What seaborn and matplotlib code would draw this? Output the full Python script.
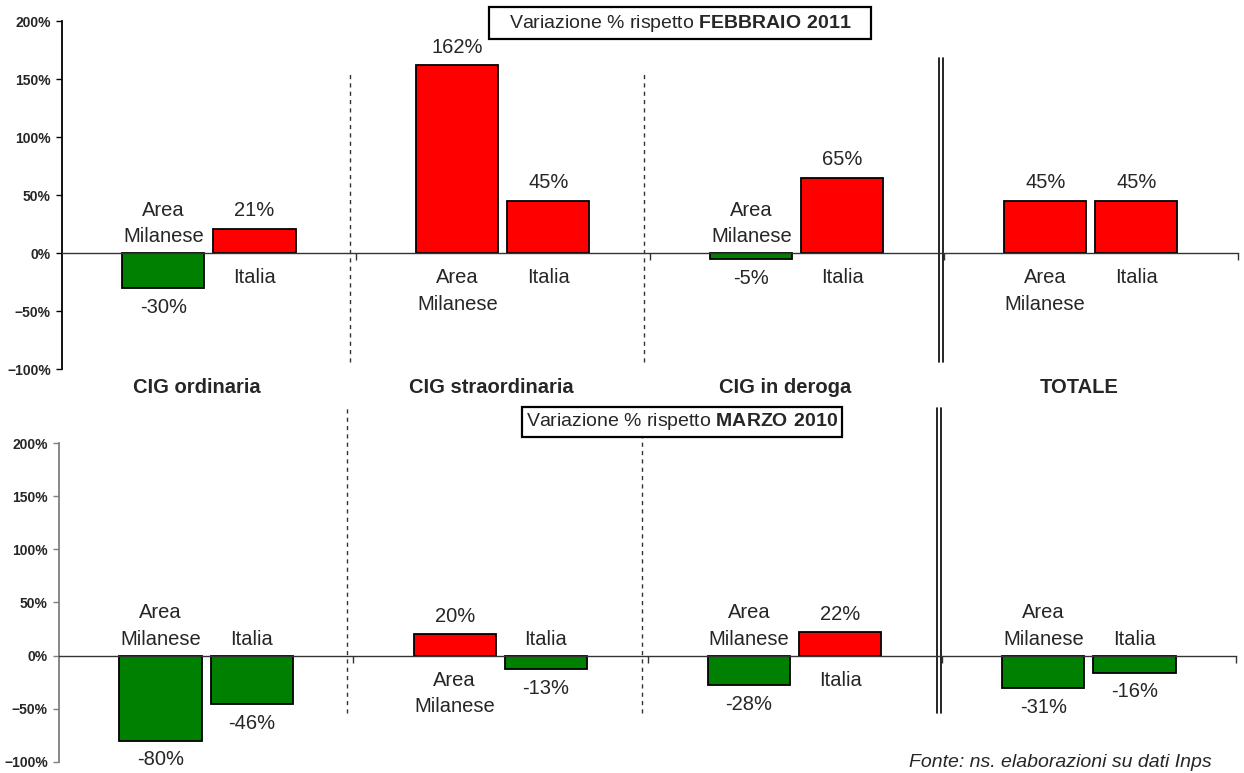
import seaborn as sns
import pandas as pd
import numpy as np
import matplotlib.pyplot as plt
import matplotlib.ticker as ticker
from matplotlib.patches import Rectangle

# data
categorie = ["CIG ordinaria", "CIG straordinaria", "CIG in deroga", "TOTALE"]
aree = ["Area\nMilanese", "Italia"]
feb_area_milanese = [-30, 162, -5, 45]
feb_italia = [21, 45, 65, 45]
mar_area_milanese = [-80, 20, -28, -31]
mar_italia = [-46, -13, 22, -16]
titolo_feb = "FEBBRAIO 2011"
titolo_mar = "MARZO 2010"
fonte = "Fonte: ns. elaborazioni su dati Inps"

sns.set_theme(style="white")
plt.rcParams['font.family'] = ['Liberation Sans', 'DejaVu Sans']
plt.rcParams['mathtext.fontset'] = 'custom'
plt.rcParams['mathtext.rm'] = 'Liberation Sans'
plt.rcParams['mathtext.bf'] = 'Liberation Sans:bold'

ROSSO = "#ff0000"
VERDE = "#008000"
FS = 14.5

fig = plt.figure(figsize=(12.44, 7.73), dpi=100)
ax_top = fig.add_axes([0.0498, 0.5226, 0.9452, 0.4502])
ax_bot = fig.add_axes([0.0474, 0.0145, 0.9462, 0.4124])


def make_df(am, it):
    return pd.DataFrame({
        "categoria": categorie * 2,
        "area": [aree[0]] * len(categorie) + [aree[1]] * len(categorie),
        "valore": list(am) + list(it),
    })


def draw_panel(ax, am, it, spine_col):
    df = make_df(am, it)
    sns.barplot(data=df, x="categoria", y="valore", hue="area", hue_order=aree,
                width=0.62, gap=0.1, ax=ax, legend=False,
                edgecolor="black", linewidth=1.3, saturation=1)
    # colour by sign + labels
    for nome, cont in zip(aree, ax.containers):
        for bar in cont:
            h = bar.get_height()
            bar.set_facecolor(ROSSO if h >= 0 else VERDE)
            xc = bar.get_x() + bar.get_width() / 2
            off = 13 if h >= 0 else -14
            ax.annotate(f"{h:.0f}%", (xc, h), xytext=(0, off), textcoords="offset points",
                        ha="center", va="center", fontsize=FS)
            if h >= 0:
                ax.annotate(nome, (xc, 0), xytext=(0, -11), textcoords="offset points",
                            ha="center", va="top", fontsize=FS, linespacing=1.5)
            else:
                ax.annotate(nome, (xc, 0), xytext=(0, 5), textcoords="offset points",
                            ha="center", va="bottom", fontsize=FS, linespacing=1.5)
    ax.set_xlim(-0.5, 3.5)
    ax.set_ylim(-100, 200)
    ax.set_yticks(np.arange(-100, 201, 50))
    ax.yaxis.set_major_formatter(ticker.PercentFormatter(decimals=0))
    ax.set_xticks([0.5, 1.5, 2.5, 3.5])
    ax.set_xticklabels([])
    ax.set_xlabel("")
    ax.set_ylabel("")
    for t in ax.get_yticklabels():
        t.set_fontweight("bold")
        t.set_fontsize(10)
    ax.tick_params(axis="y", direction="out", length=4, width=1, color=spine_col, pad=4, left=True)
    ax.tick_params(axis="x", direction="out", length=5, width=1, color="#333333", bottom=True)
    ax.spines["top"].set_visible(False)
    ax.spines["right"].set_visible(False)
    ax.spines["bottom"].set_position(("data", 0))
    ax.spines["bottom"].set_color("#333333")
    ax.spines["bottom"].set_linewidth(1)
    ax.spines["left"].set_color(spine_col)
    ax.spines["left"].set_linewidth(1.3)
    ax.patch.set_alpha(0)


draw_panel(ax_top, feb_area_milanese, feb_italia, "black")
draw_panel(ax_bot, mar_area_milanese, mar_italia, "#7f7f7f")

# separators
for ax, y0, y1, yd in [(ax_top, -94, 156, 168), (ax_bot, -54, 233, 233)]:
    for xs in [0.48, 1.48]:
        ax.plot([xs, xs], [y0, y1], color="#333333", lw=1, ls=(0, (3, 3)), clip_on=False)
    for dx in [-0.006, 0.006]:
        ax.plot([2.49 + dx, 2.49 + dx], [y0, yd], color="black", lw=1.2, clip_on=False)

# category labels between the panels
for i, cat in enumerate(categorie):
    ax_top.text(i - 0.04, -116, cat, ha="center", va="center", fontsize=14.5,
                fontweight="bold")

# boxed titles
for (x0, y0, w, h) in [(0.3931, 0.9495, 0.3071, 0.0414), (0.4196, 0.4347, 0.2572, 0.0388)]:
    fig.add_artist(Rectangle((x0, y0), w, h, transform=fig.transFigure,
                             facecolor="white", edgecolor="black", lw=1.6))
fig.text(0.5466, 0.9702, "Variazione % rispetto $\\bf{" + titolo_feb.replace(" ", "\\ ") + "}$",
         ha="center", va="center", fontsize=14)
fig.text(0.5482, 0.4541, "Variazione % rispetto $\\bf{" + titolo_mar.replace(" ", "\\ ") + "}$",
         ha="center", va="center", fontsize=14)

fig.text(0.731, 0.002, fonte, ha="left", va="bottom", fontsize=14, style="italic")

fig.savefig("out.png", dpi=100)
